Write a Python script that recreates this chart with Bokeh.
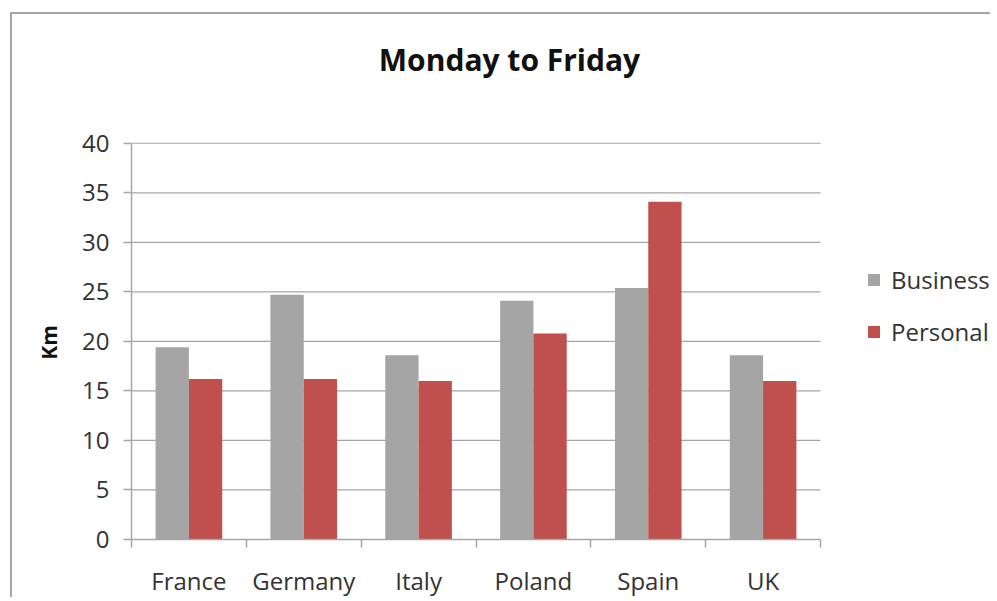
from bokeh.plotting import figure
from bokeh.models import (Range1d, LinearAxis, FixedTicker, Legend, LegendItem,
                          ColumnDataSource, Label)
from bokeh.transform import dodge
from bokeh.embed import file_html
from bokeh.resources import INLINE

countries = ["France", "Germany", "Italy", "Poland", "Spain", "UK"]
business = [19.4, 24.7, 18.6, 24.1, 25.4, 18.6]
personal = [16.2, 16.2, 16.0, 20.8, 34.1, 16.0]
y_ticks = [0, 5, 10, 15, 20, 25, 30, 35, 40]
title_text = "Monday to Friday"
y_label = "Km"

FONT = "Open Sans"
GRID = "#a6a6a6"
TXT = "#333333"

n = len(countries)
y_max = y_ticks[-1]
centers = [i + 0.5 for i in range(n)]
bounds = list(range(n + 1))
src = ColumnDataSource(dict(xc=centers, business=business, personal=personal))
grid_src = ColumnDataSource(dict(y=y_ticks, x0=[0] * len(y_ticks), x1=[n] * len(y_ticks)))

# layout (pixels): plot area of the bars is 689 x 397; the frame also holds title and legend
W, H = 980, 585
LEFT, BOTTOM = 119, 59
PLOT_W, PLOT_H = 689, 397
frame_w, frame_h = W - LEFT, H - BOTTOM
x_end = n * frame_w / PLOT_W
y_end = y_max * frame_h / PLOT_H

p = figure(x_range=Range1d(0, x_end), y_range=Range1d(0, y_end),
           width=W, height=H, output_backend="svg", toolbar_location=None,
           x_axis_location=None, y_axis_location="left",
           min_border_left=LEFT, min_border_right=0, min_border_top=0, min_border_bottom=BOTTOM)
p.styles = {"margin-left": "10px", "margin-top": "12px",
            "border-left": "2px solid #a6a6a6", "border-top": "2px solid #a6a6a6"}
p.title.visible = False
p.outline_line_color = None
p.xgrid.grid_line_color = None
p.ygrid.grid_line_color = None

p.segment(x0="x0", x1="x1", y0="y", y1="y", source=grid_src,
          line_color=GRID, line_width=1.2)

b = p.vbar(x=dodge("xc", -0.145), top="business", width=0.29,
           source=src, fill_color="#a5a5a5", line_color=None)
r = p.vbar(x=dodge("xc", 0.145), top="personal", width=0.29,
           source=src, fill_color="#c0504d", line_color=None)

ya = p.yaxis[0]
ya.ticker = FixedTicker(ticks=y_ticks)
ya.bounds = (0, y_max)
# the axis label is centred on the whole frame; pad it so the visible text sits mid-axis
ya.axis_label = y_label + "\u00a0" * 24
ya.axis_label_text_font = FONT
ya.axis_label_text_font_style = "bold"
ya.axis_label_text_font_size = "21px"
ya.axis_label_text_color = "#111111"
ya.axis_label_standoff = 16
ya.major_label_text_font = FONT
ya.major_label_text_font_size = "24px"
ya.major_label_text_color = TXT
ya.major_label_standoff = 14
ya.axis_line_color = GRID
ya.axis_line_width = 1.5
ya.major_tick_line_color = GRID
ya.major_tick_line_width = 1.5
ya.major_tick_out = 8
ya.major_tick_in = 0
ya.minor_tick_line_color = None

xa = LinearAxis(ticker=FixedTicker(ticks=centers, minor_ticks=bounds), bounds=(0, n),
                major_label_overrides={c: name for c, name in zip(centers, countries)},
                axis_line_color=GRID, axis_line_width=1.5,
                major_tick_line_color=None, major_tick_out=0, major_tick_in=0,
                minor_tick_line_color=GRID, minor_tick_line_width=1.5,
                minor_tick_out=8, minor_tick_in=0,
                major_label_text_font=FONT, major_label_text_font_size="24px",
                major_label_text_color=TXT, major_label_standoff=16)
p.add_layout(xa, "below")

title = Label(x=378, y=480, x_units="screen", y_units="screen", text=title_text,
              text_font=FONT, text_font_size="30px", text_font_style="bold",
              text_color="#111111", text_align="center", text_baseline="middle")
p.add_layout(title)

legend = Legend(items=[LegendItem(label="Business", renderers=[b]),
                       LegendItem(label="Personal", renderers=[r])],
                location=(735, 191), orientation="vertical",
                border_line_color=None, background_fill_alpha=0,
                label_text_font=FONT, label_text_font_size="24px", label_text_color=TXT,
                glyph_width=15, glyph_height=15, label_standoff=10, spacing=19,
                padding=0, margin=0, label_height=26)
p.add_layout(legend, "center")

open("out.html", "w").write(file_html(p, INLINE))
